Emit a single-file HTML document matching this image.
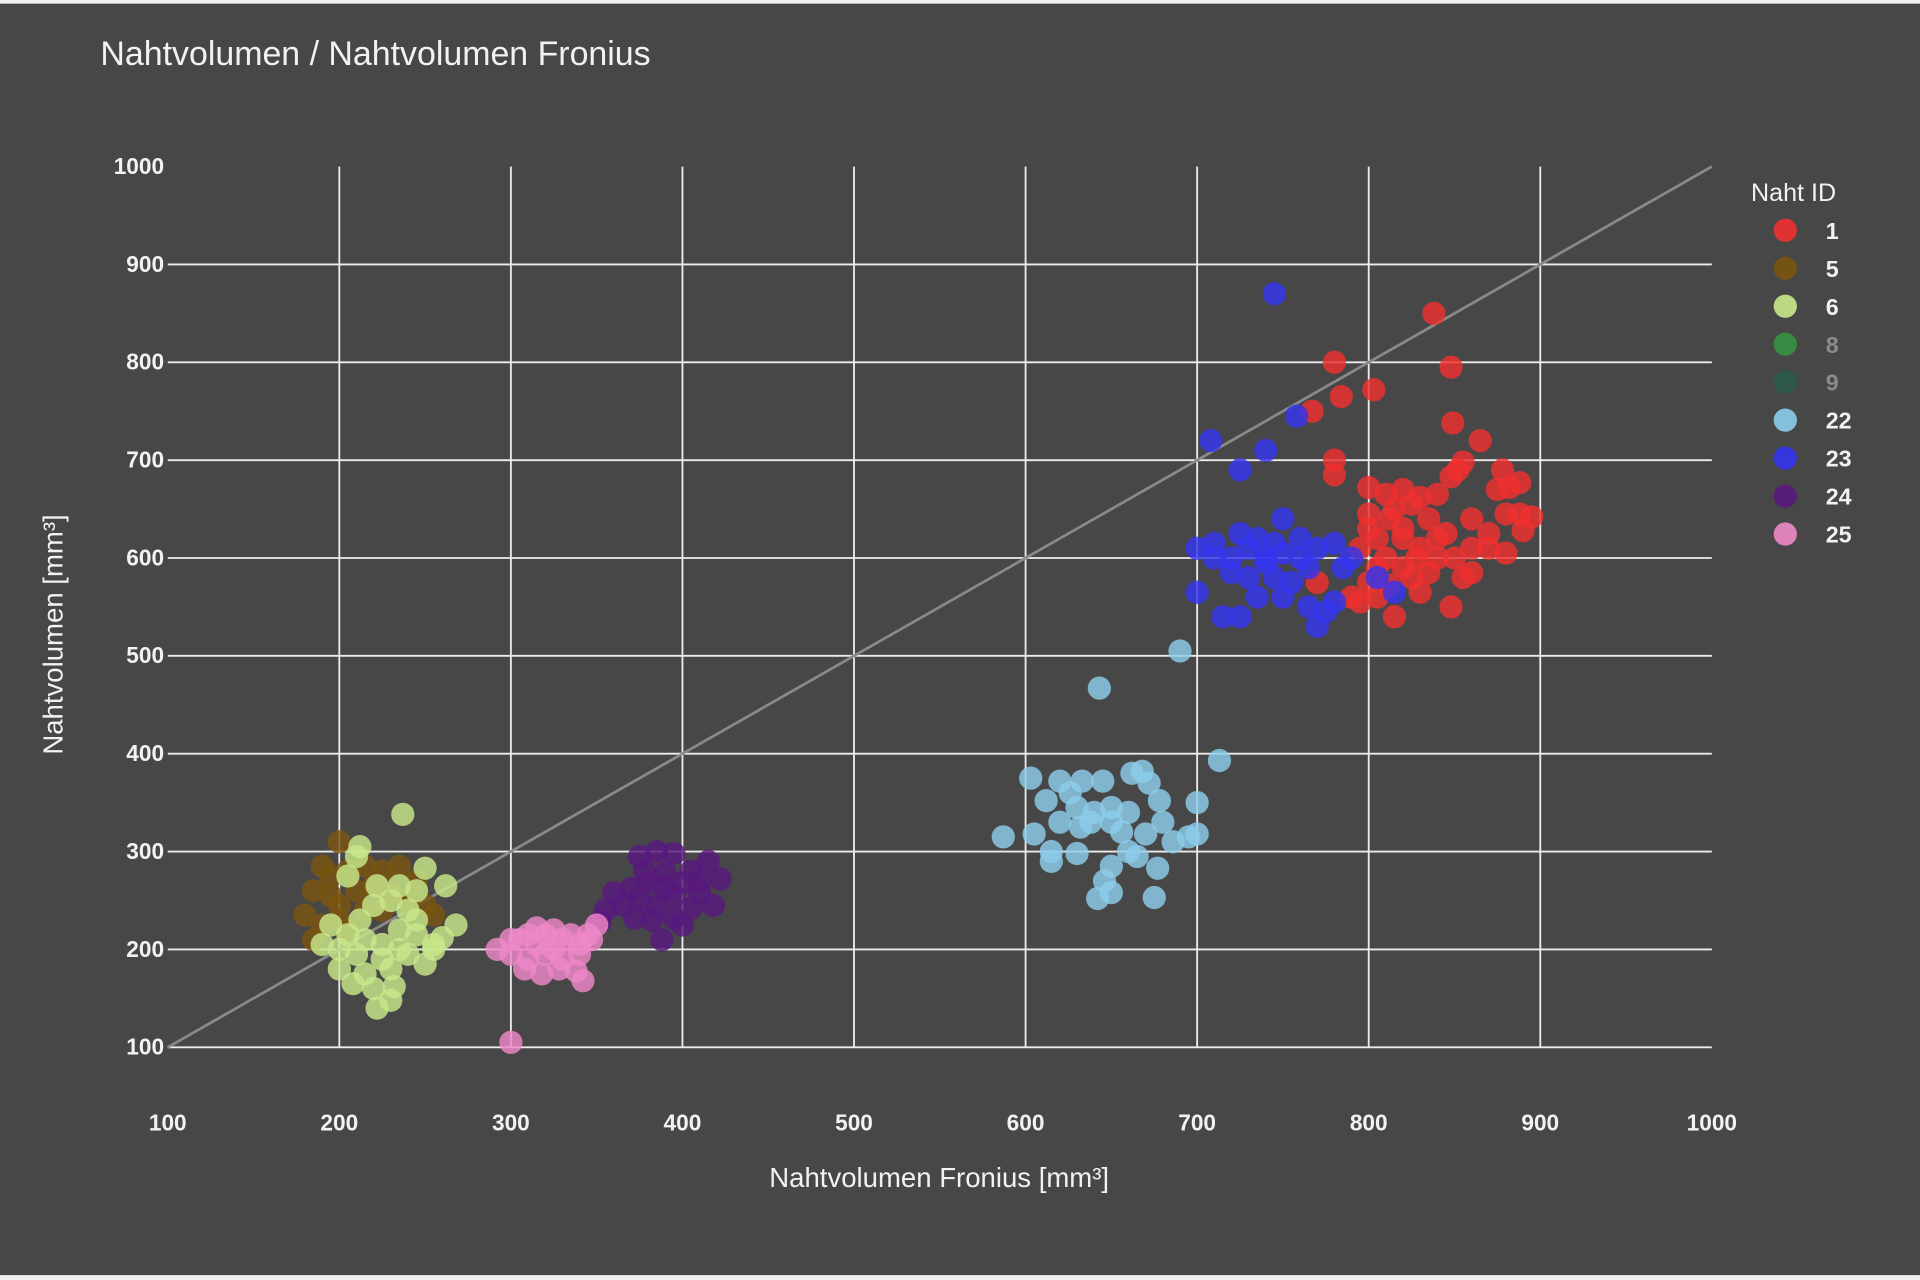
<!DOCTYPE html>
<html><head><meta charset="utf-8"><style>
html,body{margin:0;padding:0;background:#f0f0f0;}
svg{display:block;}
text{font-family:"Liberation Sans",sans-serif;}
</style></head><body>
<svg id="chart" width="1920" height="1280" viewBox="0 0 1568 1045" preserveAspectRatio="none" xmlns="http://www.w3.org/2000/svg">
<rect x="0" y="3" width="1568" height="1038" fill="#474747"/>
<text x="82" y="53" font-size="27.7" fill="#f2f2f2">Nahtvolumen / Nahtvolumen Fronius</text>
<g id="grid"></g>
<g id="marks"></g>
<text x="767" y="969" font-size="22.5" fill="#f2f2f2" text-anchor="middle">Nahtvolumen Fronius [mm³]</text>
<text transform="translate(51,518) rotate(-90)" font-size="22.5" fill="#f2f2f2" text-anchor="middle">Nahtvolumen [mm³]</text>
<g id="legend"></g>
</svg>
<script>
const xTicks=[100,200,300,400,500,600,700,800,900,1000];
const yTicks=[100,200,300,400,500,600,700,800,900,1000];
const seriesIds=["1","5","6","8","9","22","23","24","25"];
const seriesColors=["#f03030","#7a5410","#c8e88a","#30a040","#246048","#8ccdea","#3434f0","#58187e","#ee88c8"];
const s1x=[838,780,848,803,784,767,849,865,855,780,780,848,852,878,882,888,875,800,810,820,830,815,825,840,812,835,800,820,845,860,880,888,895,870,860,880,890,795,810,830,840,820,850,855,825,805,800,790,805,830,860,848,815,770,795,840,820,805,800,828,812,870,835];
const s1y=[850,800,795,772,765,750,738,720,698,700,685,683,690,690,672,677,670,672,665,670,662,650,655,665,640,640,630,630,625,640,645,645,642,610,610,605,628,610,600,610,600,590,600,580,580,590,575,560,560,565,585,550,540,575,555,620,620,620,645,600,572,625,585];
const s5x=[200,190,195,205,215,225,235,185,195,200,210,220,230,245,240,180,190,200,255,250,215,205,185,225];
const s5y=[310,285,275,280,285,280,285,260,255,245,260,265,258,270,250,235,225,230,235,245,240,220,210,240];
const s6x=[237,212,210,250,262,205,222,235,245,230,220,240,268,195,205,215,225,235,245,255,260,190,200,210,225,240,250,200,215,230,208,220,232,222,230,255,245,235,212];
const s6y=[338,305,295,283,265,275,265,265,260,250,245,240,225,225,215,210,205,200,215,205,212,205,200,195,190,195,185,180,175,180,165,160,162,140,148,200,230,220,230];
const s22x=[690,643,713,603,620,633,645,662,668,672,678,700,612,630,640,650,620,632,656,670,686,695,700,587,605,615,630,650,660,665,650,646,642,650,677,675,638,660,626,680,615];
const s22y=[505,467,393,375,372,372,372,380,382,370,352,350,352,345,340,345,330,325,320,318,310,315,318,315,318,300,298,330,300,295,285,270,252,258,283,253,330,340,360,330,290];
const s23x=[745,758,708,740,725,750,700,710,720,730,735,740,750,760,770,780,700,715,725,735,745,755,765,775,770,780,790,805,815,740,730,760,710,720,750,785,725,745,765];
const s23y=[870,745,720,710,690,640,610,615,600,610,620,595,605,600,610,615,565,540,540,560,580,575,550,545,530,555,600,580,565,600,580,620,600,585,560,590,625,615,590];
const s24x=[385,395,375,405,415,422,360,370,380,390,400,410,365,375,385,395,405,418,372,382,395,388,400,355,352,390,378,410];
const s24y=[300,298,295,280,290,272,258,262,268,278,268,258,245,250,245,255,242,245,232,230,232,210,225,240,228,262,280,270];
const s25x=[300,292,300,305,310,315,320,325,330,335,340,345,350,347,310,320,330,340,308,318,328,338,342,325,315,300];
const s25y=[105,200,195,210,215,205,215,220,210,215,205,215,225,210,190,195,190,195,180,175,180,178,168,200,222,210];
const seriesData={"1":[s1x,s1y],"5":[s5x,s5y],"6":[s6x,s6y],"22":[s22x,s22y],"23":[s23x,s23y],"24":[s24x,s24y],"25":[s25x,s25y]};

const NS="http://www.w3.org/2000/svg";
function xs(v){return 137+(v-100)*(1398-137)/900;}
function ys(v){return 855-(v-100)*(855-136)/900;}
function mk(tag,attrs){const e=document.createElementNS(NS,tag);for(const k in attrs)e.setAttribute(k,attrs[k]);return e;}
const grid=document.getElementById('grid');
xTicks.forEach(t=>{
  if(t>100&&t<1000){const l=mk('line',{x1:xs(t),x2:xs(t),y1:ys(1000),y2:ys(100),stroke:'#ececec','stroke-width':1.5});
  
  
  grid.appendChild(l);}
  const tx=mk('text',{x:xs(t),y:923,'font-size':18.5,'font-weight':'bold',fill:'#f2f2f2','text-anchor':'middle'});
  tx.textContent=t;
  
  
  grid.appendChild(tx);
});
yTicks.forEach(t=>{
  if(t<1000){const l=mk('line',{x1:xs(100),x2:xs(1000),y1:ys(t),y2:ys(t),stroke:'#ececec','stroke-width':1.5});
  
  
  grid.appendChild(l);}
  const tx=mk('text',{x:134,y:ys(t)+6,'font-size':18.5,'font-weight':'bold',fill:'#f2f2f2','text-anchor':'end'});
  tx.textContent=t;
  
  
  grid.appendChild(tx);
});
const diag=mk('line',{x1:xs(100),y1:ys(100),x2:xs(1000),y2:ys(1000),stroke:'#8a8a8a','stroke-width':2.2});


grid.appendChild(diag);

const marks=document.getElementById('marks');
seriesIds.forEach((id,i)=>{
  const d=seriesData[id]; if(!d) return;
  const g=mk('g',{fill:seriesColors[i],'fill-opacity':0.82});
  
  
  d[0].forEach((xv,j)=>{
    const c=mk('circle',{cx:xs(xv),cy:ys(d[1][j]),r:9.5});
    
    
    g.appendChild(c);
  });
  marks.appendChild(g);
});

const lg=document.getElementById('legend');
const lt=mk('text',{x:1430,y:164,'font-size':20.5,fill:'#f2f2f2'});
lt.textContent='Naht ID';


lg.appendChild(lt);
seriesIds.forEach((id,i)=>{
  const y=188+31*i;
  const hidden=(id==='8'||id==='9');
  const g=mk('g',{});
  
  
  g.appendChild(mk('circle',{cx:1458,cy:y,r:9.5,fill:seriesColors[i],'fill-opacity':hidden?0.75:0.9}));
  const t=mk('text',{x:1491,y:y+7,'font-size':19,'font-weight':'bold',fill:hidden?'#8a8a8a':'#f2f2f2'});
  t.textContent=id;
  g.appendChild(t);
  lg.appendChild(g);
});
</script>
</body></html>
